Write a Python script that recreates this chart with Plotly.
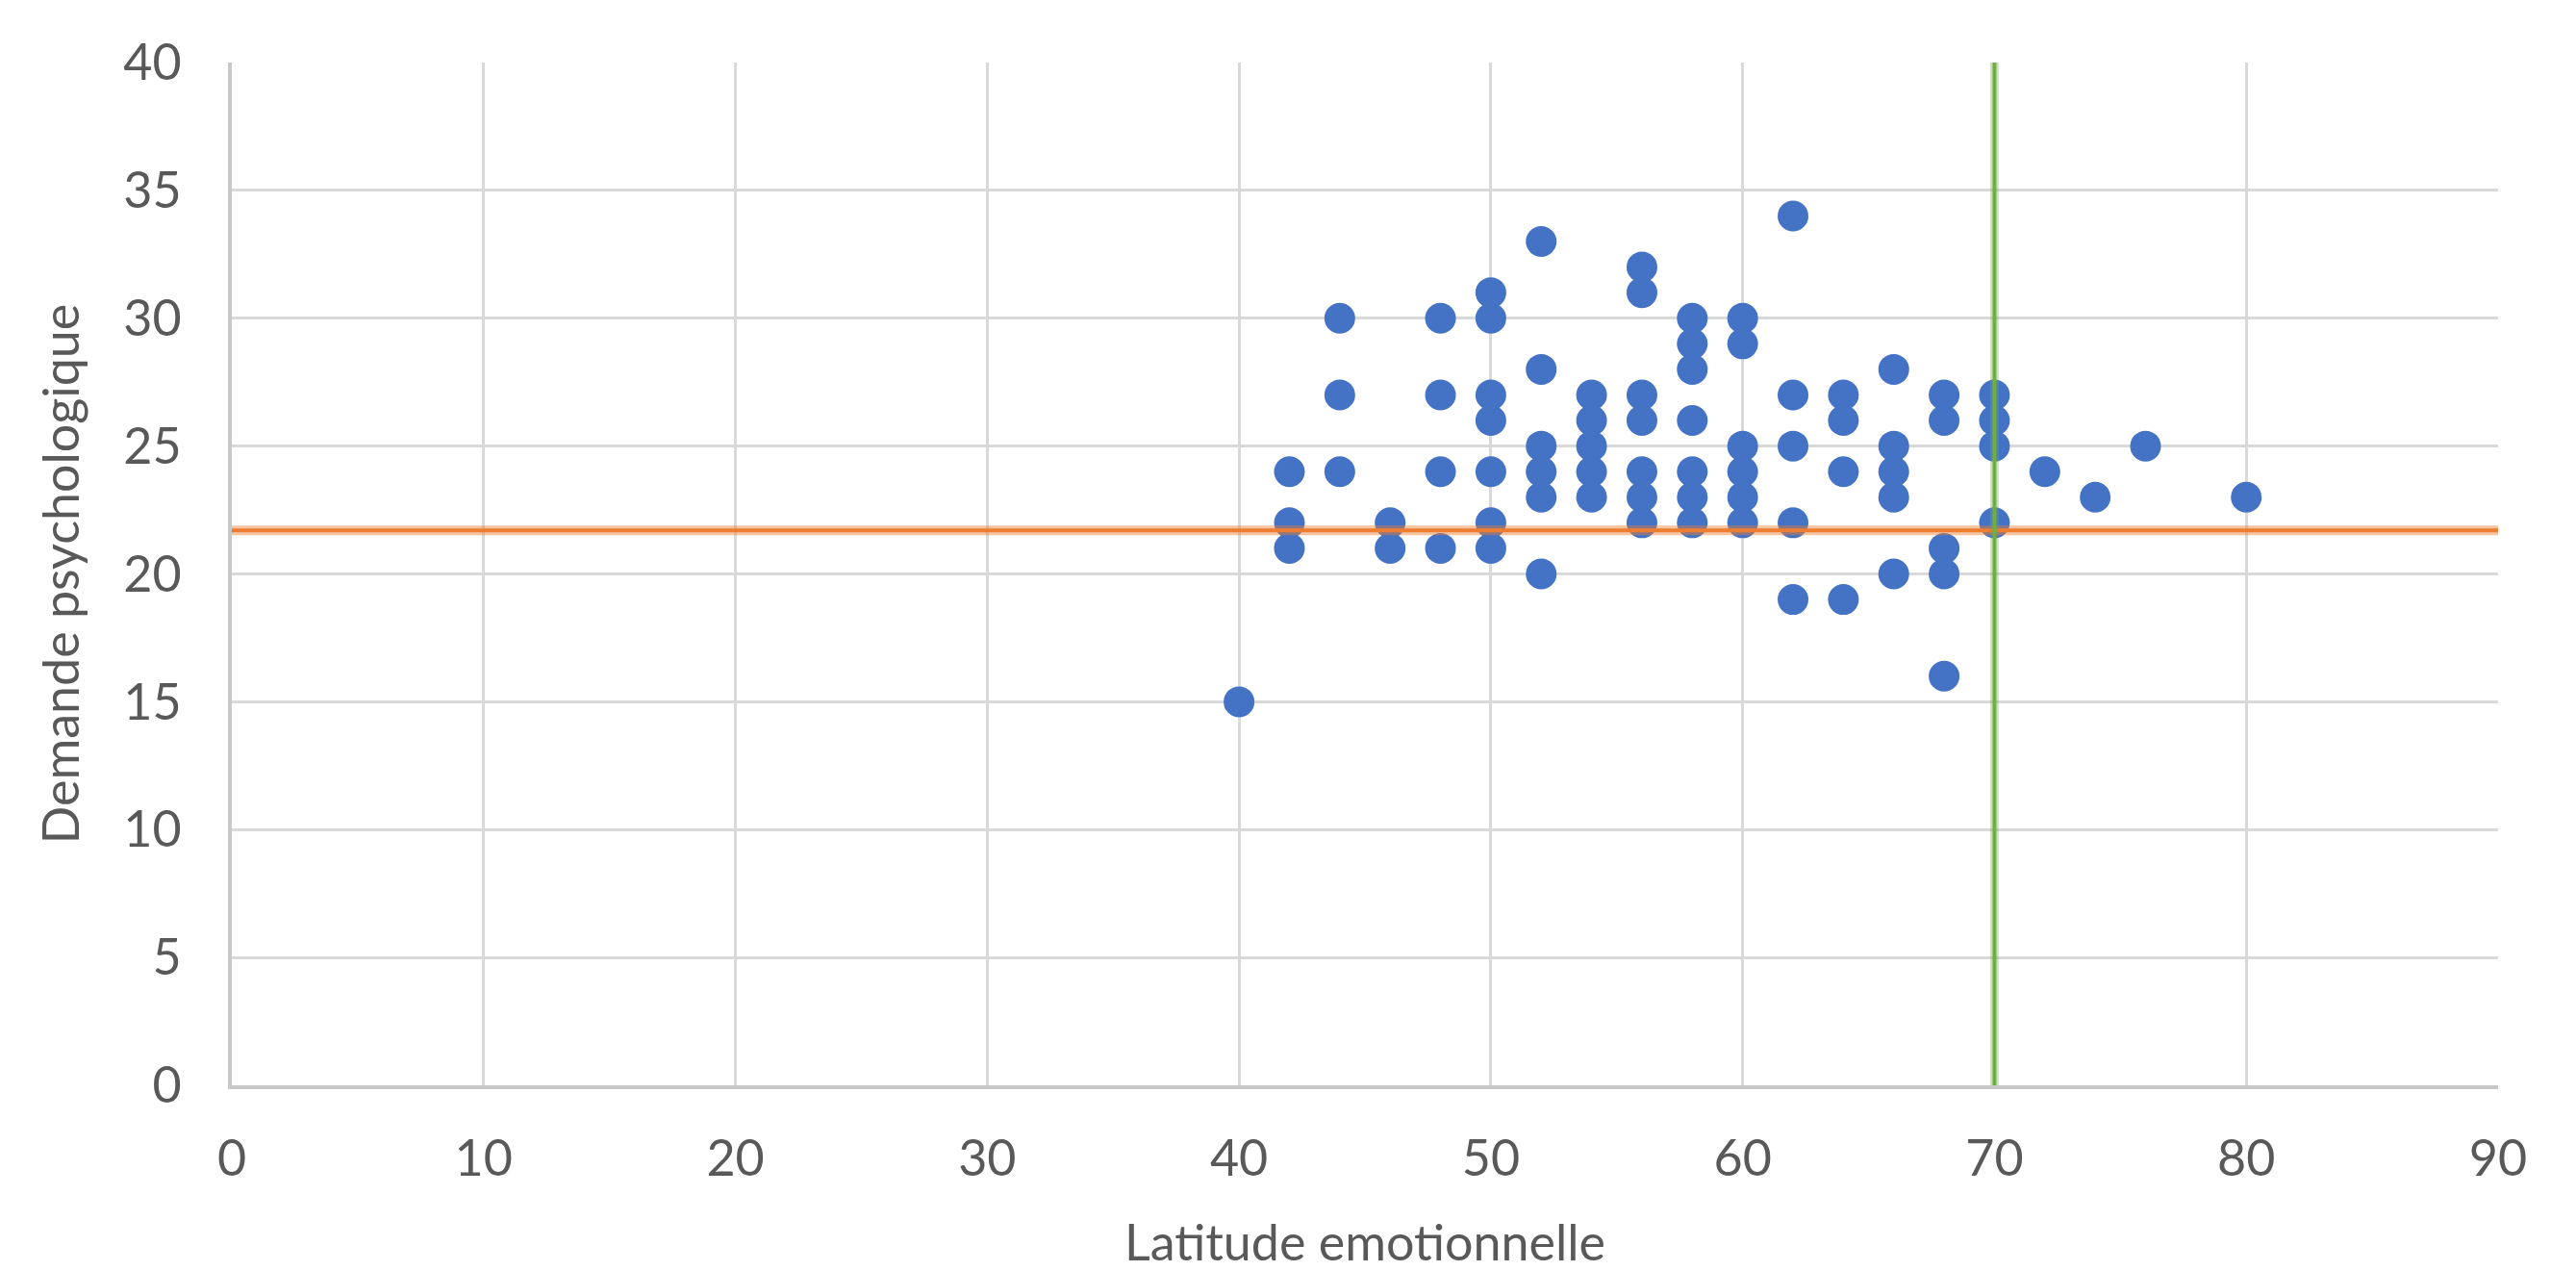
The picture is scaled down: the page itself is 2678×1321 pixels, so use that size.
import plotly.graph_objects as go

# Scatter data: Latitude emotionnelle (x) vs Demande psychologique (y)
latitude = [40,
            42, 42, 42,
            44, 44, 44,
            46, 46,
            48, 48, 48, 48,
            50, 50, 50, 50, 50, 50, 50,
            52, 52, 52, 52, 52, 52,
            54, 54, 54, 54, 54,
            56, 56, 56, 56, 56, 56, 56,
            58, 58, 58, 58, 58, 58, 58,
            60, 60, 60, 60, 60, 60,
            62, 62, 62, 62, 62,
            64, 64, 64, 64,
            66, 66, 66, 66, 66,
            68, 68, 68, 68, 68,
            70, 70, 70, 70,
            72, 74, 76, 80]
demande = [15,
           24, 22, 21,
           30, 27, 24,
           22, 21,
           30, 27, 24, 21,
           31, 30, 27, 26, 24, 22, 21,
           33, 28, 25, 24, 23, 20,
           27, 26, 25, 24, 23,
           32, 31, 27, 26, 24, 23, 22,
           30, 29, 28, 26, 24, 23, 22,
           30, 29, 25, 24, 23, 22,
           34, 27, 25, 22, 19,
           27, 26, 24, 19,
           28, 25, 24, 23, 20,
           27, 26, 21, 20, 16,
           27, 26, 25, 22,
           24, 23, 25, 23]

# Reference lines
h_line_x = [0, 90]
h_line_y = [21.7, 21.7]
v_line_x = [70, 70]
v_line_y = [0, 40]

x_ticks = [0, 10, 20, 30, 40, 50, 60, 70, 80, 90]
y_ticks = [0, 5, 10, 15, 20, 25, 30, 35, 40]

FONT = "Lato, 'Open Sans', sans-serif"
TXT = "#595959"

fig = go.Figure()
fig.add_trace(go.Scatter(x=latitude, y=demande, mode="markers",
                         marker=dict(size=32, color="#4472C4", line=dict(width=0)),
                         showlegend=False))
fig.add_trace(go.Scatter(x=h_line_x, y=h_line_y, mode="lines",
                         line=dict(color="rgba(237,125,49,0.45)", width=10),
                         showlegend=False, hoverinfo="skip"))
fig.add_trace(go.Scatter(x=h_line_x, y=h_line_y, mode="lines",
                         line=dict(color="#ED7D31", width=4),
                         showlegend=False))
fig.add_trace(go.Scatter(x=v_line_x, y=v_line_y, mode="lines",
                         line=dict(color="rgba(112,173,71,0.35)", width=9),
                         showlegend=False, hoverinfo="skip"))
fig.add_trace(go.Scatter(x=v_line_x, y=v_line_y, mode="lines",
                         line=dict(color="#70AD47", width=4),
                         showlegend=False))

fig.update_layout(
    width=2670, height=1313,
    margin=dict(l=233, r=81, t=57, b=193),
    paper_bgcolor="white", plot_bgcolor="white",
    font=dict(family=FONT, color=TXT, size=52),
)
fig.update_xaxes(range=[0, 90], tickvals=x_ticks, ticktext=[str(v) for v in x_ticks],
                 automargin=False,
                 showgrid=True, gridcolor="#d9d9d9", gridwidth=3,
                 showline=True, linecolor="#c8c8c8", linewidth=4,
                 zeroline=False, ticks="outside", ticklen=28, tickcolor="rgba(0,0,0,0)",
                 tickfont=dict(size=52, color=TXT, family=FONT),
                 title=dict(text="Latitude emotionnelle", standoff=43,
                            font=dict(size=52, color=TXT, family=FONT)))
fig.update_yaxes(range=[0, 40], tickvals=y_ticks, ticktext=[str(v) for v in y_ticks],
                 automargin=False,
                 showgrid=True, gridcolor="#d9d9d9", gridwidth=3,
                 showline=True, linecolor="#c8c8c8", linewidth=4,
                 zeroline=False, ticks="outside", ticklen=38, tickcolor="rgba(0,0,0,0)",
                 tickfont=dict(size=52, color=TXT, family=FONT),
                 title=dict(text="Demande psychologique", standoff=30,
                            font=dict(size=52, color=TXT, family=FONT)))

fig.write_html("out.html")
